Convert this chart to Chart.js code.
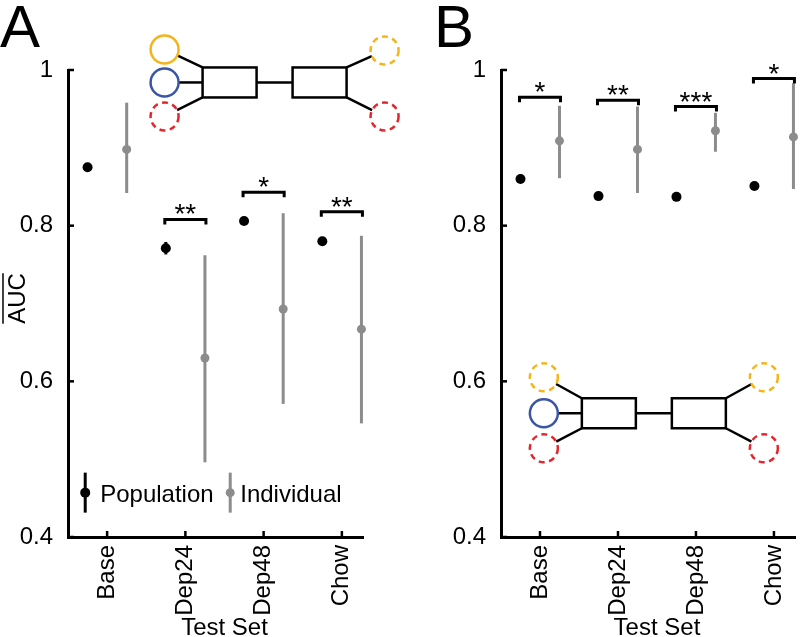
<!DOCTYPE html>
<html>
<head>
<meta charset="utf-8">
<script src="https://cdn.jsdelivr.net/npm/chart.js"></script>
<style>
  html, body { margin: 0; padding: 0; background: #fff; }
  #wrap { position: relative; width: 800px; height: 637px; }
  canvas { position: absolute; top: 0; }
</style>
</head>
<body>
<div id="wrap">
  <canvas id="chartA" width="400" height="637" style="left:0"></canvas>
  <canvas id="chartB" width="400" height="637" style="left:400px"></canvas>
</div>

<script>
// ---------------- data ----------------
const categories = ["Base", "Dep24", "Dep48", "Chow"];
const yTicks = [0.4, 0.6, 0.8, 1];

// panel A
const aPopMean  = [0.875, 0.771, 0.806, 0.780];
const aPopErr   = [0.004, 0.008, 0.004, 0.005];
const aIndMean  = [0.898, 0.630, 0.693, 0.667];
const aIndLow   = [0.842, 0.496, 0.571, 0.546];
const aIndHigh  = [0.958, 0.762, 0.816, 0.787];
const aSigY     = [null, 0.808, 0.843, 0.818];
const aSigLabel = ["", "**", "*", "**"];

// panel B
const bPopMean  = [0.860, 0.838, 0.837, 0.851];
const bPopErr   = [0.005, 0.003, 0.003, 0.003];
const bIndMean  = [0.909, 0.898, 0.922, 0.914];
const bIndLow   = [0.861, 0.842, 0.895, 0.847];
const bIndHigh  = [0.954, 0.953, 0.945, 0.983];
const bSigY     = [0.965, 0.961, 0.953, 0.989];
const bSigLabel = ["*", "**", "***", "*"];

// ---------------- style ----------------
const FONT = '"Liberation Sans", Arial, Helvetica, sans-serif';
const GREY = "#8c8c8c";
const YELLOW = "#f4b41a";
const BLUE = "#3b55a5";
const RED = "#e3262d";
const OFFSET = 0.25;   // population left of tick, individual right of tick

function seg(ctx, x1, y1, x2, y2) {
    ctx.beginPath();
    ctx.moveTo(x1, y1);
    ctx.lineTo(x2, y2);
    ctx.stroke();
}

// circle + box network sketch, anchored at a data point
function drawDiagram(ctx, cx, cy, nodes) {
    ctx.save();
    ctx.strokeStyle = "#000";
    ctx.lineWidth = 2.5;
    ctx.strokeRect(cx - 72, cy - 15, 54, 30);
    ctx.strokeRect(cx + 18, cy - 15, 54, 30);
    seg(ctx, cx - 18, cy, cx + 18, cy);

    nodes.forEach(n => {
        const ex = cx + n.side * 72;
        const ey = cy + Math.sign(n.dy) * 15;
        const ox = cx + n.side * 110;
        const oy = cy + n.dy;
        const r = 14;
        const ang = Math.atan2(ey - oy, ex - ox);
        ctx.strokeStyle = "#000";
        ctx.setLineDash([]);
        seg(ctx, ex, ey, ox + r * Math.cos(ang), oy + r * Math.sin(ang));

        ctx.strokeStyle = n.color;
        ctx.setLineDash(n.dashed ? [6, 4.5] : []);
        ctx.beginPath();
        ctx.arc(ox, oy, r, 0, Math.PI * 2);
        ctx.stroke();
    });
    ctx.restore();
}

function makePanelPlugin(p) {
    return {
        id: "panel" + p.letter,
        beforeDatasetsDraw(chart) {
            const { ctx, scales: { x, y } } = chart;
            ctx.save();
            ctx.lineWidth = 3;
            ctx.strokeStyle = "#000";
            p.popMean.forEach((m, i) => {
                const px = x.getPixelForValue(i + 1 - OFFSET);
                seg(ctx, px, y.getPixelForValue(m - p.popErr[i]), px, y.getPixelForValue(m + p.popErr[i]));
            });
            ctx.strokeStyle = GREY;
            p.indLow.forEach((lo, i) => {
                const px = x.getPixelForValue(i + 1 + OFFSET);
                seg(ctx, px, y.getPixelForValue(lo), px, y.getPixelForValue(p.indHigh[i]));
            });
            ctx.restore();
        },
        afterDraw(chart) {
            const { ctx, chartArea: area, scales: { x, y } } = chart;
            ctx.save();

            // inward tick marks
            ctx.strokeStyle = "#000";
            ctx.lineWidth = 2.5;
            yTicks.forEach(v => {
                const py = y.getPixelForValue(v);
                seg(ctx, area.left, py, area.left + 6, py);
            });
            categories.forEach((c, i) => {
                const px = x.getPixelForValue(i + 1);
                seg(ctx, px, area.bottom, px, area.bottom - 6);
            });

            // significance brackets
            ctx.lineWidth = 3;
            ctx.fillStyle = "#000";
            ctx.textAlign = "center";
            ctx.textBaseline = "alphabetic";
            p.sigY.forEach((s, i) => {
                if (s === null) return;
                const x1 = x.getPixelForValue(i + 1 - OFFSET) - 1;
                const x2 = x.getPixelForValue(i + 1 + OFFSET) + 1;
                const py = y.getPixelForValue(s);
                ctx.beginPath();
                ctx.moveTo(x1, py + 5);
                ctx.lineTo(x1, py);
                ctx.lineTo(x2, py);
                ctx.lineTo(x2, py + 5);
                ctx.stroke();
                ctx.font = "28px " + FONT;
                ctx.fillText(p.sigLabel[i], (x1 + x2) / 2, py + 4);
            });

            // panel letter
            ctx.textAlign = "left";
            ctx.font = "60px " + FONT;
            ctx.fillText(p.letter, p.letterX, 47);

            // x title, centred on the ticks
            ctx.font = "24px " + FONT;
            ctx.textAlign = "center";
            const midX = (x.getPixelForValue(1) + x.getPixelForValue(categories.length)) / 2;
            ctx.fillText("Test Set", midX, 635);

            // y title with overline (mean AUC)
            if (p.yTitle) {
                ctx.save();
                ctx.translate(25, (area.top + area.bottom) / 2 - 5);
                ctx.rotate(-Math.PI / 2);
                ctx.fillText(p.yTitle, 0, 0);
                const w = ctx.measureText(p.yTitle).width;
                ctx.lineWidth = 1.5;
                seg(ctx, -w / 2, -22, w / 2, -22);
                ctx.restore();
            }

            // network sketch
            drawDiagram(ctx, x.getPixelForValue(p.diagram.x), y.getPixelForValue(p.diagram.y), p.diagram.nodes);

            // legend
            if (p.legend) {
                const lx = x.getPixelForValue(p.legend.x);
                const ly = y.getPixelForValue(p.legend.y);
                ctx.textAlign = "left";
                p.legend.items.forEach(it => {
                    const mx = lx + it.dx;
                    ctx.strokeStyle = it.color;
                    ctx.fillStyle = it.color;
                    ctx.lineWidth = 3;
                    seg(ctx, mx, ly - 20, mx, ly + 20);
                    ctx.beginPath();
                    ctx.arc(mx, ly, it.r, 0, Math.PI * 2);
                    ctx.fill();
                    ctx.fillStyle = "#000";
                    ctx.fillText(it.label, mx + it.tx, ly + 9);
                });
            }
            ctx.restore();
        }
    };
}

function buildPanel(canvasId, p) {
    return new Chart(document.getElementById(canvasId), {
        type: "scatter",
        data: {
            datasets: [{
                label: "Population",
                data: p.popMean.map((m, i) => ({ x: i + 1 - OFFSET, y: m })),
                backgroundColor: "#000",
                borderWidth: 0,
                pointRadius: 5,
                clip: false
            }, {
                label: "Individual",
                data: p.indMean.map((m, i) => ({ x: i + 1 + OFFSET, y: m })),
                backgroundColor: GREY,
                borderWidth: 0,
                pointRadius: 4.5,
                clip: false
            }]
        },
        options: {
            responsive: false,
            animation: false,
            events: [],
            layout: { padding: { top: 70, right: p.padRight, left: 0, bottom: 0 } },
            plugins: {
                legend: { display: false },
                tooltip: { enabled: false }
            },
            scales: {
                x: {
                    type: "linear",
                    min: 0.5,
                    max: 4.27,
                    grid: { display: false },
                    border: { display: true, color: "#000", width: 3 },
                    afterBuildTicks: s => { s.ticks = categories.map((c, i) => ({ value: i + 1 })); },
                    ticks: {
                        autoSkip: false,
                        minRotation: 90,
                        maxRotation: 90,
                        padding: 0,
                        color: "#000",
                        font: { family: FONT, size: 24 },
                        callback: v => categories[Math.round(v) - 1]
                    },
                    afterFit: s => { s.height = 100; s.paddingLeft = 0; s.paddingRight = 0; }
                },
                y: {
                    min: 0.4,
                    max: 1,
                    grid: { display: false },
                    border: { display: true, color: "#000", width: 3 },
                    afterBuildTicks: s => { s.ticks = yTicks.map(v => ({ value: v })); },
                    ticks: {
                        padding: 7,
                        color: "#000",
                        font: { family: FONT, size: 24 },
                        callback: v => String(Math.round(v * 10) / 10)
                    },
                    afterFit: s => { s.width = p.yWidth; }
                }
            }
        },
        plugins: [makePanelPlugin(p)]
    });
}

buildPanel("chartA", {
    letter: "A", letterX: 0, yTitle: "AUC", yWidth: 68, padRight: 37,
    popMean: aPopMean, popErr: aPopErr,
    indMean: aIndMean, indLow: aIndLow, indHigh: aIndHigh,
    sigY: aSigY, sigLabel: aSigLabel,
    diagram: {
        x: 3.14, y: 0.984,
        nodes: [
            { side: -1, dy: -33, color: YELLOW, dashed: false },
            { side: -1, dy: 0,   color: BLUE,   dashed: false },
            { side: -1, dy: 34,  color: RED,    dashed: true },
            { side: 1,  dy: -32, color: YELLOW, dashed: true },
            { side: 1,  dy: 34,  color: RED,    dashed: true }
        ]
    },
    legend: {
        x: 0.72, y: 0.457,
        items: [
            { dx: 0,   color: "#000", r: 5,   label: "Population", tx: 15 },
            { dx: 145, color: GREY,   r: 4.5, label: "Individual", tx: 10 }
        ]
    }
});

buildPanel("chartB", {
    letter: "B", letterX: 34, yTitle: null, yWidth: 101, padRight: 3,
    popMean: bPopMean, popErr: bPopErr,
    indMean: bIndMean, indLow: bIndLow, indHigh: bIndHigh,
    sigY: bSigY, sigLabel: bSigLabel,
    diagram: {
        x: 2.46, y: 0.559,
        nodes: [
            { side: -1, dy: -36, color: YELLOW, dashed: true },
            { side: -1, dy: 0,   color: BLUE,   dashed: false },
            { side: -1, dy: 35,  color: RED,    dashed: true },
            { side: 1,  dy: -36, color: YELLOW, dashed: true },
            { side: 1,  dy: 35,  color: RED,    dashed: true }
        ]
    },
    legend: null
});
</script>
</body>
</html>
